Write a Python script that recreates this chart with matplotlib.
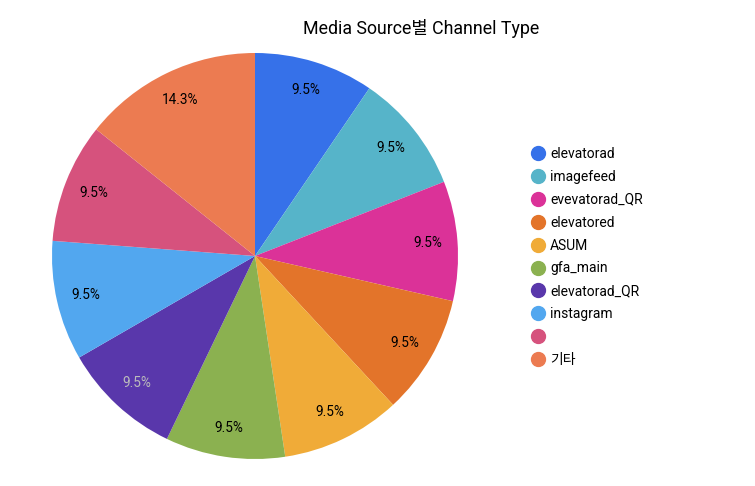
import matplotlib
matplotlib.use("Agg")
import matplotlib.pyplot as plt
from matplotlib.lines import Line2D

plt.rcParams['font.family'] = ['Roboto', 'Noto Sans CJK KR', 'DejaVu Sans']

labels = ["elevatorad", "imagefeed", "evevatorad_QR", "elevatored", "ASUM",
          "gfa_main", "elevatorad_QR", "instagram", "", "기타"]
values = [2, 2, 2, 2, 2, 2, 2, 2, 2, 3]
colors = ["#3671E9", "#56B4C9", "#DB3298", "#E3742A", "#F0AB38",
          "#8BB150", "#5937AB", "#52A7EF", "#D6527D", "#EC7B51"]
pct_colors = ["black"] * 10
pct_colors[6] = "#BBBBBB"

fig = plt.figure(figsize=(7.55, 4.86), dpi=100)
W, H = 755, 486
cx, cy, r = 255, 256, 203
ax = fig.add_axes([(cx - r) / W, (H - cy - r) / H, 2 * r / W, 2 * r / H])
wedges, texts, autotexts = ax.pie(values, colors=colors, startangle=90, counterclock=False,
                                  autopct='%1.1f%%', pctdistance=0.855,
                                  wedgeprops=dict(linewidth=0),
                                  textprops=dict(fontsize=9.8))
for t, c in zip(autotexts, pct_colors):
    t.set_color(c)
ax.set_aspect('equal')
ax.set_xlim(-1, 1)
ax.set_ylim(-1, 1)

fig.text(421 / W, 1 - 28 / H, "Media Source별 Channel Type", ha='center', va='center', fontsize=12.8)

handles = [Line2D([0], [0], marker='o', linestyle='', markersize=10,
                  markerfacecolor=c, markeredgecolor=c) for c in colors]
fig.legend(handles, labels, loc='upper left', bbox_to_anchor=(531 / W, 1 - 147 / H),
           frameon=False, fontsize=10, handletextpad=0.36, labelspacing=0.64,
           handlelength=1.0, borderpad=0, borderaxespad=0)

fig.savefig("out.png", dpi=100)
